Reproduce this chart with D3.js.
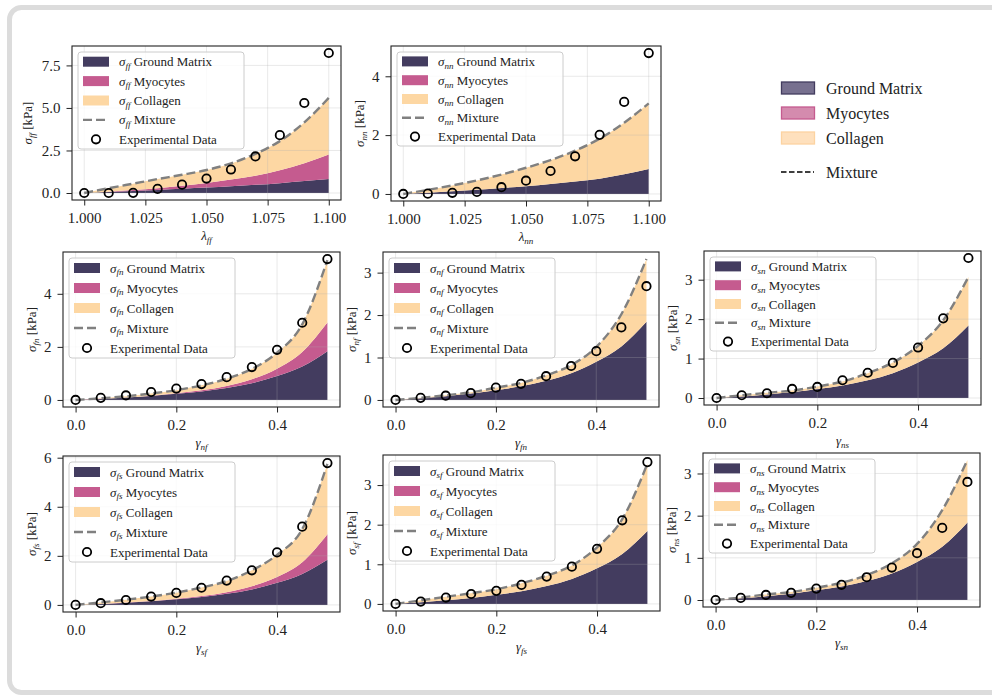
<!DOCTYPE html>
<html>
<head>
<meta charset="utf-8">
<script src="https://cdn.jsdelivr.net/npm/d3@7"></script>
<style>
body { margin: 0; background: #fff; }
text { font-family: 'Liberation Serif', 'Times New Roman', 'DejaVu Serif', serif; }
</style>
</head>
<body>
<svg id="fig" width="992" height="695" font-family="Liberation Serif"></svg>
<script>
// stretch values (normal panels) and shear values (shear panels)
const lam = [1.00, 1.01, 1.02, 1.03, 1.04, 1.05, 1.06, 1.07, 1.08, 1.09, 1.10];
const gam = [0, 0.05, 0.10, 0.15, 0.20, 0.25, 0.30, 0.35, 0.40, 0.45, 0.50];
const none = [0, 0, 0, 0, 0, 0, 0, 0, 0, 0, 0];

// sigma_ff
const ff_ground = [0, 0.06, 0.12, 0.18, 0.25, 0.32, 0.40, 0.48, 0.58, 0.70, 0.83];
const ff_myo    = [0, 0.02, 0.05, 0.10, 0.17, 0.27, 0.39, 0.54, 0.76, 1.05, 1.44];
const ff_coll   = [0, 0.20, 0.38, 0.54, 0.65, 0.76, 0.95, 1.28, 1.71, 2.40, 3.32];
const ff_exp    = [0, 0, 0.01, 0.24, 0.49, 0.85, 1.38, 2.15, 3.40, 5.29, 8.23];

// sigma_nn
const nn_ground = [0, 0.04, 0.09, 0.14, 0.20, 0.26, 0.34, 0.42, 0.52, 0.67, 0.85];
const nn_coll   = [0, 0.10, 0.20, 0.32, 0.46, 0.63, 0.81, 1.05, 1.36, 1.75, 2.23];
const nn_exp    = [0, 0.01, 0.04, 0.07, 0.23, 0.45, 0.78, 1.28, 2.01, 3.13, 4.79];

// ground matrix is the same in all shear panels
const sh_ground = [0, 0.04, 0.09, 0.15, 0.23, 0.32, 0.45, 0.63, 0.90, 1.26, 1.84];

const fn_myo  = [0, 0.001, 0.005, 0.012, 0.025, 0.045, 0.08, 0.15, 0.28, 0.55, 1.08];
const fn_coll = [0, 0.02, 0.045, 0.08, 0.115, 0.185, 0.27, 0.39, 0.60, 1.04, 2.35];
const fn_exp  = [0, 0.08, 0.17, 0.30, 0.43, 0.60, 0.86, 1.24, 1.89, 2.91, 5.31];

const nf_coll = [0, 0.01, 0.02, 0.03, 0.06, 0.08, 0.13, 0.19, 0.35, 0.76, 1.48];
const nf_exp  = [0, 0.05, 0.10, 0.16, 0.29, 0.38, 0.56, 0.80, 1.15, 1.71, 2.68];

const sn_coll = [0, 0.03, 0.04, 0.04, 0.06, 0.10, 0.18, 0.27, 0.42, 0.71, 1.23];
const sn_exp  = [0, 0.07, 0.12, 0.23, 0.28, 0.45, 0.64, 0.89, 1.28, 2.02, 3.55];

const fs_myo  = [0, 0.001, 0.004, 0.01, 0.02, 0.04, 0.07, 0.13, 0.24, 0.48, 1.04];
const fs_coll = [0, 0.06, 0.12, 0.18, 0.25, 0.35, 0.45, 0.65, 0.90, 1.35, 2.87];
const fs_exp  = [0, 0.07, 0.20, 0.34, 0.49, 0.70, 0.99, 1.41, 2.14, 3.19, 5.78];

const sf_coll = [0, 0.05, 0.09, 0.12, 0.14, 0.20, 0.26, 0.34, 0.53, 0.88, 1.70];
const sf_exp  = [0, 0.06, 0.16, 0.25, 0.33, 0.48, 0.69, 0.94, 1.39, 2.11, 3.58];

const ns_coll = [0, 0.02, 0.04, 0.04, 0.06, 0.09, 0.14, 0.24, 0.43, 0.87, 1.48];
const ns_exp  = [0, 0.05, 0.12, 0.17, 0.27, 0.36, 0.54, 0.77, 1.11, 1.71, 2.80];

// tick labels
const lamTicks = [1.000, 1.025, 1.050, 1.075, 1.100];
const gamTicks = [0, 0.2, 0.4];
const yt_ff = [0, 2.5, 5, 7.5];
const yt_24 = [0, 2, 4];
const yt_3  = [0, 1, 2, 3];
const yt_6  = [0, 2, 4, 6];

const components = ['Ground Matrix', 'Myocytes', 'Collagen', 'Mixture'];
const colors = ['#433c5f', '#c55b8f', '#fdd7a3'];

const panels = [
  {s: 'ff', xsym: 'λ', xsub: 'ff', xs: lam, g: ff_ground, m: ff_myo, c: ff_coll, e: ff_exp, xt: lamTicks, xf: '.3f', yt: yt_ff, yf: '.1f'},
  {s: 'nn', xsym: 'λ', xsub: 'nn', xs: lam, g: nn_ground, m: none, c: nn_coll, e: nn_exp, xt: lamTicks, xf: '.3f', yt: yt_24, yf: 'd'},
  {s: 'fn', xsym: 'γ', xsub: 'nf', xs: gam, g: sh_ground, m: fn_myo, c: fn_coll, e: fn_exp, xt: gamTicks, xf: '.1f', yt: yt_24, yf: 'd'},
  {s: 'nf', xsym: 'γ', xsub: 'fn', xs: gam, g: sh_ground, m: none, c: nf_coll, e: nf_exp, xt: gamTicks, xf: '.1f', yt: yt_3, yf: 'd'},
  {s: 'sn', xsym: 'γ', xsub: 'ns', xs: gam, g: sh_ground, m: none, c: sn_coll, e: sn_exp, xt: gamTicks, xf: '.1f', yt: yt_3, yf: 'd'},
  {s: 'fs', xsym: 'γ', xsub: 'sf', xs: gam, g: sh_ground, m: fs_myo, c: fs_coll, e: fs_exp, xt: gamTicks, xf: '.1f', yt: yt_6, yf: 'd'},
  {s: 'sf', xsym: 'γ', xsub: 'fs', xs: gam, g: sh_ground, m: none, c: sf_coll, e: sf_exp, xt: gamTicks, xf: '.1f', yt: yt_3, yf: 'd'},
  {s: 'ns', xsym: 'γ', xsub: 'sn', xs: gam, g: sh_ground, m: none, c: ns_coll, e: ns_exp, xt: gamTicks, xf: '.1f', yt: yt_3, yf: 'd'}
];

// axes boxes [x, y, w, h], y label distance, legend height
const boxes = [
  [72, 46, 269, 154, 40, 97],
  [391, 46, 270, 155, 27, 94],
  [63, 252, 277, 155, 27, 100],
  [383, 252, 276, 155, 27, 100],
  [704, 251, 277, 154, 27, 94],
  [63, 456, 277, 156, 27, 100],
  [383, 455, 277, 156, 27, 100],
  [703, 453, 277, 154, 27, 94]
];

const FONT = 'Liberation Serif, Times New Roman, DejaVu Serif, serif';
const svg = d3.select('#fig');
const NB = '\u00a0';

svg.append('rect')
  .attr('x', 9.5).attr('y', 7.5)
  .attr('width', 1000).attr('height', 685)
  .attr('rx', 12)
  .attr('fill', 'none')
  .attr('stroke', '#dcdcdc')
  .attr('stroke-width', 5);

function symText(sel, sym, sub, rest, size) {
  const t = sel.append('text').attr('font-family', FONT).attr('font-size', size).attr('fill', '#222');
  t.append('tspan').attr('font-style', 'italic').text(sym);
  t.append('tspan').attr('font-style', 'italic')
    .attr('font-size', size * 0.7).attr('dy', size * 0.22).text(sub);
  if (rest) t.append('tspan').attr('dy', -size * 0.22).text(rest);
  return t;
}

function drawPanel(p, b) {
  const [bx, by, w, h, ylOff, legH] = b;
  const g = svg.append('g').attr('transform', `translate(${bx},${by})`);

  const rows = p.xs.map((x, i) => {
    const g0 = p.g[i], m0 = g0 + p.m[i], c0 = m0 + p.c[i];
    return {x: x, g: g0, m: m0, c: c0, e: p.e[i]};
  });

  const xExt = d3.extent(p.xs), dx = xExt[1] - xExt[0];
  const x = d3.scaleLinear().domain([xExt[0] - 0.05 * dx, xExt[1] + 0.05 * dx]).range([0, w]);
  const yMax = d3.max(rows, d => Math.max(d.c, d.e));
  const y = d3.scaleLinear().domain([-0.05 * yMax, 1.05 * yMax]).range([h, 0]);

  const layers = [['0', 'g'], ['g', 'm'], ['m', 'c']];
  layers.forEach((l, i) => {
    const area = d3.area()
      .x(d => x(d.x))
      .y0(d => y(l[0] === '0' ? 0 : d[l[0]]))
      .y1(d => y(d[l[1]]))
      .curve(d3.curveMonotoneX);
    g.append('path').datum(rows).attr('d', area).attr('fill', colors[i]);
  });

  // grid
  const grid = g.append('g').attr('stroke', '#b0b0b0').attr('stroke-opacity', 0.35).attr('stroke-width', 0.8);
  p.xt.forEach(t => grid.append('line').attr('x1', x(t)).attr('x2', x(t)).attr('y1', 0).attr('y2', h));
  p.yt.forEach(t => grid.append('line').attr('y1', y(t)).attr('y2', y(t)).attr('x1', 0).attr('x2', w));

  const line = d3.line().x(d => x(d.x)).y(d => y(d.c)).curve(d3.curveMonotoneX);
  g.append('path').datum(rows).attr('d', line)
    .attr('fill', 'none').attr('stroke', '#808080')
    .attr('stroke-width', 2.4).attr('stroke-dasharray', '9,4');

  g.selectAll('circle.exp').data(rows).join('circle')
    .attr('class', 'exp')
    .attr('cx', d => x(d.x)).attr('cy', d => y(d.e)).attr('r', 4.2)
    .attr('fill', 'none').attr('stroke', '#000').attr('stroke-width', 1.8);

  g.append('rect').attr('width', w).attr('height', h)
    .attr('fill', 'none').attr('stroke', '#222').attr('stroke-width', 1.1);

  const xAxis = g.append('g').attr('transform', `translate(0,${h})`)
    .call(d3.axisBottom(x).tickValues(p.xt).tickFormat(d3.format(p.xf)).tickSize(5.5).tickPadding(7));
  const yAxis = g.append('g')
    .call(d3.axisLeft(y).tickValues(p.yt).tickFormat(d3.format(p.yf)).tickSize(5.5).tickPadding(6));
  [xAxis, yAxis].forEach(a => {
    a.attr('font-family', FONT);
    a.select('.domain').remove();
    a.selectAll('line').attr('stroke', '#222');
    a.selectAll('text').attr('font-size', 15).attr('fill', '#222').attr('font-family', FONT);
  });

  symText(g, p.xsym, p.xsub, null, 13)
    .attr('text-anchor', 'middle').attr('x', w / 2).attr('y', h + 40);
  symText(g, 'σ', p.s, NB + '[kPa]', 13)
    .attr('text-anchor', 'middle')
    .attr('transform', `translate(${-ylOff},${h / 2}) rotate(-90)`);

  // legend
  const lg = g.append('g').attr('transform', 'translate(6,6)');
  lg.append('rect').attr('width', 166).attr('height', legH).attr('rx', 3)
    .attr('fill', '#fff').attr('fill-opacity', 0.8)
    .attr('stroke', '#cccccc').attr('stroke-width', 1);
  const rh = legH / 5;
  const labels = components.map(c => ({sym: 'σ', sub: p.s, rest: NB + c}))
    .concat([{sym: '', sub: '', rest: 'Experimental Data'}]);
  labels.forEach((lab, i) => {
    const cy = rh * (i + 0.5);
    if (i < 3) {
      lg.append('rect').attr('x', 5).attr('y', cy - 5).attr('width', 26).attr('height', 10).attr('fill', colors[i]);
    } else if (i === 3) {
      lg.append('line').attr('x1', 5).attr('x2', 31).attr('y1', cy).attr('y2', cy)
        .attr('stroke', '#808080').attr('stroke-width', 2.4).attr('stroke-dasharray', '9,4');
    } else {
      lg.append('circle').attr('cx', 18).attr('cy', cy).attr('r', 4.2)
        .attr('fill', 'none').attr('stroke', '#000').attr('stroke-width', 1.8);
    }
    if (lab.sym) {
      symText(lg, lab.sym, lab.sub, lab.rest, 13).attr('x', 41).attr('y', cy + 4.5);
    } else {
      lg.append('text').attr('font-family', FONT).attr('font-size', 13).attr('fill', '#222')
        .attr('x', 41).attr('y', cy + 4.5).text(lab.rest);
    }
  });
}

panels.forEach((p, i) => drawPanel(p, boxes[i]));

// figure legend
const fl = svg.append('g').attr('transform', 'translate(781,82)');
const legFill = ['#77708f', '#d48bae', '#fee0bd'];
const legEdge = ['#433c5f', '#c55b8f', '#fcd3a1'];
components.forEach((c, i) => {
  const cy = i < 3 ? 6 + i * 25 : 90;
  if (i < 3) {
    fl.append('rect').attr('x', 0.5).attr('y', cy - 6).attr('width', 33).attr('height', 12)
      .attr('fill', legFill[i]).attr('stroke', legEdge[i]).attr('stroke-width', 1.3);
  } else {
    fl.append('line').attr('x1', 0).attr('x2', 33).attr('y1', cy).attr('y2', cy)
      .attr('stroke', '#000').attr('stroke-width', 1.6).attr('stroke-dasharray', '5.5,2.5');
  }
  fl.append('text').attr('font-family', FONT).attr('x', 45).attr('y', cy + 5.5)
    .attr('font-size', 16).attr('fill', '#222').text(c);
});
</script>
</body>
</html>
